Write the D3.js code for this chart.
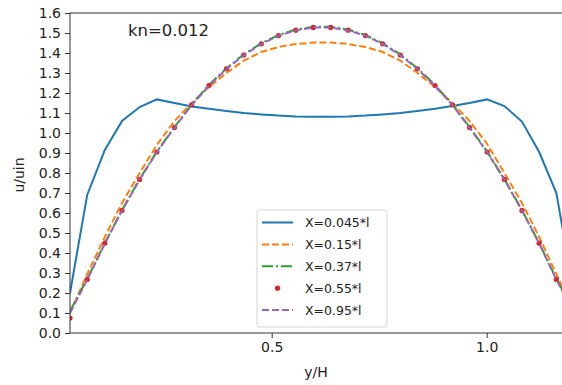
<!DOCTYPE html>
<html>
<head>
<meta charset="utf-8">
<script src="https://cdn.jsdelivr.net/npm/d3@7"></script>
<style>
  body { margin: 0; background: #fff; }
  text { font-family: "DejaVu Sans", sans-serif; fill: #222; }
</style>
</head>
<body>
<div id="chart"></div>
<script>
// grid positions along the channel (y/H)
var xs = [0.031, 0.071, 0.112, 0.152, 0.193, 0.233, 0.274, 0.314, 0.354, 0.395,
          0.435, 0.476, 0.516, 0.556, 0.597, 0.637, 0.678, 0.718, 0.758, 0.799,
          0.839, 0.880, 0.920, 0.960, 1.001, 1.041, 1.082, 1.122, 1.162, 1.203];

// u/uin for each station
var u045 = [0.20, 0.69, 0.915, 1.06, 1.13, 1.168, 1.15, 1.133, 1.121, 1.11,
            1.10, 1.093, 1.087, 1.083, 1.081, 1.081, 1.083, 1.087, 1.093, 1.10,
            1.11, 1.121, 1.135, 1.15, 1.168, 1.135, 1.057, 0.905, 0.70, 0.20];
var u15  = [0.10, 0.295, 0.48, 0.65, 0.80, 0.94, 1.06, 1.15, 1.23, 1.30,
            1.362, 1.405, 1.43, 1.445, 1.452, 1.452, 1.445, 1.43, 1.405, 1.362,
            1.30, 1.23, 1.15, 1.06, 0.945, 0.80, 0.65, 0.48, 0.295, 0.10];
var u37  = [0.11, 0.27, 0.45, 0.615, 0.77, 0.907, 1.03, 1.143, 1.24, 1.324,
            1.393, 1.449, 1.49, 1.517, 1.531, 1.531, 1.517, 1.49, 1.449, 1.393,
            1.324, 1.24, 1.143, 1.03, 0.907, 0.77, 0.615, 0.45, 0.27, 0.11];
var u55  = [0.075, 0.268, 0.449, 0.613, 0.768, 0.905, 1.028, 1.141, 1.237, 1.321,
            1.39, 1.446, 1.487, 1.514, 1.528, 1.528, 1.514, 1.487, 1.446, 1.39,
            1.321, 1.237, 1.141, 1.028, 0.905, 0.768, 0.613, 0.449, 0.268, 0.075];
var u95  = [0.10, 0.266, 0.447, 0.612, 0.767, 0.904, 1.027, 1.14, 1.236, 1.32,
            1.389, 1.445, 1.486, 1.513, 1.527, 1.527, 1.513, 1.486, 1.445, 1.389,
            1.32, 1.236, 1.14, 1.027, 0.904, 0.767, 0.612, 0.447, 0.266, 0.10];

var labels = ["X=0.045*l", "X=0.15*l", "X=0.37*l", "X=0.55*l", "X=0.95*l"];
var xTicks = [0.5, 1.0];
var yTicks = [0, 0.1, 0.2, 0.3, 0.4, 0.5, 0.6, 0.7, 0.8, 0.9, 1.0, 1.1, 1.2, 1.3, 1.4, 1.5, 1.6];

var width = 562, height = 385;
var padLeft = 70, padRight = 574, padTop = 13, padBottom = 333;

var svg = d3.select("#chart").append("svg")
  .attr("width", width)
  .attr("height", height);

var xScale = d3.scaleLinear().domain([0.031, 1.203]).range([padLeft, padRight]);
var yScale = d3.scaleLinear().domain([0, 1.6]).range([padBottom, padTop]);

svg.append("clipPath").attr("id", "plotclip")
  .append("rect")
  .attr("x", padLeft).attr("y", padTop)
  .attr("width", padRight - padLeft).attr("height", padBottom - padTop);

// series styles, matplotlib default cycle
var series = [
  {vals: u045, color: "#1f77b4", dash: null, type: "line"},
  {vals: u15,  color: "#ff7f0e", dash: "7,3", type: "line"},
  {vals: u37,  color: "#2ca02c", dash: "11,3,2,3", type: "line"},
  {vals: u55,  color: "#d62728", dash: null, type: "dot"},
  {vals: u95,  color: "#9467bd", dash: "7,3", type: "line"}
];

var plot = svg.append("g").attr("clip-path", "url(#plotclip)");

var line = d3.line()
  .x(function(d, i){ return xScale(xs[i]); })
  .y(function(d){ return yScale(d); });

series.forEach(function(s){
  if (s.type == "line") {
    plot.append("path")
      .attr("d", line(s.vals))
      .attr("fill", "none")
      .attr("stroke", s.color)
      .attr("stroke-width", 2)
      .attr("stroke-dasharray", s.dash);
  } else {
    s.vals.forEach(function(v, i){
      plot.append("circle")
        .attr("cx", xScale(xs[i]))
        .attr("cy", yScale(v))
        .attr("r", 2.6)
        .attr("fill", s.color);
    });
  }
});

// axes
var yAxis = d3.axisLeft(yScale)
  .tickValues(yTicks)
  .tickFormat(d3.format(".1f"))
  .tickSize(5)
  .tickPadding(4);
var gy = svg.append("g")
  .attr("transform", "translate(" + padLeft + ",0)")
  .call(yAxis);
gy.select(".domain").remove();
gy.selectAll("text").style("font-size", "14px").style("font-family", "DejaVu Sans");
gy.selectAll("line").attr("stroke", "#333");

var xAxis = d3.axisBottom(xScale)
  .tickValues(xTicks)
  .tickFormat(d3.format(".1f"))
  .tickSize(5)
  .tickPadding(4);
var gx = svg.append("g")
  .attr("transform", "translate(0," + padBottom + ")")
  .call(xAxis);
gx.select(".domain").remove();
gx.selectAll("text").style("font-size", "14px").style("font-family", "DejaVu Sans");
gx.selectAll("line").attr("stroke", "#333");

// spines
svg.append("rect")
  .attr("x", padLeft).attr("y", padTop)
  .attr("width", padRight - padLeft).attr("height", padBottom - padTop)
  .attr("fill", "none")
  .attr("stroke", "#333")
  .attr("stroke-width", 1);

// axis labels
svg.append("text")
  .text("y/H")
  .attr("x", 316)
  .attr("y", 377)
  .attr("text-anchor", "middle")
  .style("font-size", "14px");

svg.append("text")
  .text("u/uin")
  .attr("transform", "translate(24,175) rotate(-90)")
  .attr("text-anchor", "middle")
  .style("font-size", "14px");

// annotation
svg.append("text")
  .text("kn=0.012")
  .attr("x", 128)
  .attr("y", 36)
  .style("font-size", "16.5px");

// legend
var lg = svg.append("g");
lg.append("rect")
  .attr("x", 257).attr("y", 210)
  .attr("width", 130).attr("height", 117)
  .attr("rx", 3)
  .attr("fill", "#fff")
  .attr("fill-opacity", 0.85)
  .attr("stroke", "#d6d6d6")
  .attr("stroke-width", 1);

series.forEach(function(s, i){
  var yy = 222.5 + i * 21.9;
  if (s.type == "line") {
    lg.append("line")
      .attr("x1", 262).attr("x2", 293)
      .attr("y1", yy).attr("y2", yy)
      .attr("stroke", s.color)
      .attr("stroke-width", 2)
      .attr("stroke-dasharray", s.dash);
  } else {
    lg.append("circle")
      .attr("cx", 277.5).attr("cy", yy)
      .attr("r", 2.6)
      .attr("fill", s.color);
  }
  lg.append("text")
    .text(labels[i])
    .attr("x", 305)
    .attr("y", yy + 4.5)
    .style("font-size", "12.5px");
});
</script>
</body>
</html>
